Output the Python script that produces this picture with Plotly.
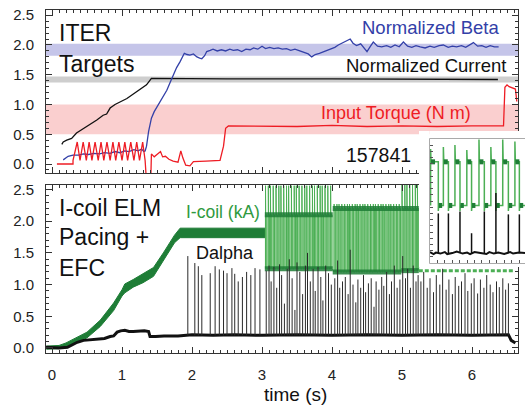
import plotly.graph_objects as go

# ---------------- top panel: ITER target quantities ----------------
CURRENT_T = [0.14, 0.16, 0.21, 0.28, 0.35, 0.50, 0.64, 0.73, 0.78, 0.83, 0.90, 1.07, 1.21, 1.35, 1.42, 2.50, 4.00, 5.50, 6.37]
CURRENT_V = [0.33, 0.37, 0.40, 0.43, 0.52, 0.63, 0.74, 0.82, 0.84, 0.94, 1.00, 1.10, 1.22, 1.33, 1.44, 1.43, 1.43, 1.42, 1.42]

BETA_T = [0.16, 0.20, 0.23, 0.30, 0.38, 0.45, 0.52, 0.60, 0.68, 0.75, 0.83, 0.90, 0.97, 1.04, 1.10, 1.17,
          1.23, 1.28, 1.31, 1.33, 1.35, 1.38, 1.42, 1.46, 1.50, 1.55, 1.60, 1.64, 1.69, 1.73, 1.78, 1.83,
          1.86, 1.89, 1.93, 1.97, 2.02, 2.07, 2.11, 2.14, 2.18, 2.21, 2.26, 2.30, 2.36, 2.42, 2.48, 2.54,
          2.59, 2.65, 2.71, 2.77, 2.83, 2.88, 2.94, 3.00, 3.05, 3.11, 3.17, 3.23, 3.29, 3.35, 3.41, 3.47,
          3.54, 3.60, 3.66, 3.71, 3.76, 3.82, 3.88, 3.92, 3.98, 4.04, 4.09, 4.14, 4.20, 4.26, 4.30, 4.35,
          4.41, 4.46, 4.50, 4.55, 4.59, 4.65, 4.71, 4.78, 4.84, 4.90, 4.96, 5.02, 5.08, 5.14, 5.20, 5.26,
          5.33, 5.40, 5.46, 5.53, 5.59, 5.66, 5.72, 5.78, 5.85, 5.91, 5.97, 6.02, 6.08, 6.14, 6.20, 6.26,
          6.32, 6.38]
BETA_V = [0.07, 0.10, 0.13, 0.15, 0.15, 0.17, 0.16, 0.18, 0.17, 0.19, 0.18, 0.21, 0.19, 0.22, 0.21, 0.24,
          0.22, 0.25, 0.21, 0.22, 0.30, 0.55, 0.77, 0.88, 0.96, 1.05, 1.15, 1.24, 1.38, 1.50, 1.62, 1.72,
          1.80, 1.86, 1.84, 1.83, 1.85, 1.80, 1.78, 1.77, 1.82, 1.89, 1.91, 1.93, 1.90, 1.92, 1.90, 1.93,
          1.91, 1.92, 1.89, 1.93, 1.92, 1.95, 1.93, 1.98, 1.94, 1.96, 1.94, 1.95, 1.93, 1.94, 1.91, 1.93,
          1.90, 1.88, 1.85, 1.80, 1.84, 1.86, 1.89, 1.90, 1.94, 1.96, 2.00, 2.03, 2.06, 2.10, 2.03, 1.99,
          2.02, 1.94, 1.89, 1.98, 2.05, 1.98, 1.97, 1.99, 1.96, 2.00, 1.97, 2.05, 1.98, 1.96, 1.99, 1.97,
          1.95, 1.98, 1.96, 1.99, 2.00, 1.96, 1.98, 1.97, 1.99, 1.96, 2.01, 2.04, 1.98, 1.99, 1.96, 1.99,
          1.97, 1.97]

TORQUE_T = [0.07, 0.30, 0.30, 0.36, 0.40, 0.445, 0.49, 0.53, 0.57, 0.615, 0.66, 0.70, 0.74, 0.785, 0.83,
            0.87, 0.91, 0.955, 1.00, 1.04, 1.08, 1.125, 1.17, 1.21, 1.25, 1.295, 1.33, 1.35, 1.41, 1.42,
            1.46, 1.50, 1.55, 1.58, 1.62, 1.67, 1.73, 1.80, 1.84, 1.87, 1.91, 1.97, 2.02, 2.20, 2.40, 2.45,
            2.48, 2.52, 3.00, 3.50, 4.00, 4.50, 5.00, 5.50, 6.00, 6.45, 6.47, 6.50, 6.53, 6.58, 6.62, 6.64]
TORQUE_V = [0.00, 0.00, 0.06, 0.37, 0.06, 0.37, 0.06, 0.37, 0.06, 0.37, 0.06, 0.37, 0.06, 0.37, 0.06,
            0.37, 0.06, 0.37, 0.06, 0.37, 0.06, 0.37, 0.06, 0.37, 0.06, 0.37, 0.06, -0.30, -0.30, 0.17,
            0.12, 0.16, 0.21, 0.12, 0.13, 0.08, 0.05, 0.03, 0.22, 0.10, -0.02, -0.03, 0.04, 0.05, 0.06, 0.30,
            0.60, 0.64, 0.64, 0.63, 0.65, 0.63, 0.64, 0.63, 0.64, 0.64, 1.29, 1.33, 1.30, 1.27, 1.26, 1.05]

# target windows (low, high)
BETA_TARGET = (1.82, 2.02)
CURRENT_TARGET = (1.37, 1.47)
TORQUE_TARGET = (0.50, 1.00)

# ---------------- bottom panel: I-coil current and Dalpha ----------------
ICOIL_T = [-0.08, 0.10, 0.20, 0.35, 0.50, 0.69, 0.88, 1.00, 1.04, 1.16, 1.30, 1.45, 1.59, 1.75, 1.83, 3.05]
ICOIL_HI = [0.03, 0.04, 0.08, 0.17, 0.25, 0.44, 0.71, 0.92, 1.01, 1.08, 1.17, 1.27, 1.50, 1.78, 1.89, 1.89]
ICOIL_LO = [-0.02, -0.01, 0.02, 0.09, 0.16, 0.34, 0.59, 0.82, 0.87, 0.96, 1.03, 1.13, 1.38, 1.66, 1.74, 1.74]

# pacing windows: start, end, high plateau, overshoot, low plateau (kA)
PACE_START = [3.04, 4.01, 4.99]
PACE_END = [4.01, 4.99, 5.24]
PACE_HIGH = [2.10, 2.20, 2.20]
PACE_PEAK = [2.56, 2.27, 2.58]
PACE_LOW = [1.25, 1.20, 1.22]
PACE_T = [3.05, 3.09, 3.12, 3.16, 3.20, 3.24, 3.27, 3.31, 3.35, 3.38, 3.42, 3.46, 3.49, 3.53, 3.57, 3.61,
          3.64, 3.68, 3.72, 3.75, 3.79, 3.83, 3.86, 3.90, 3.94, 3.98,
          4.03, 4.07, 4.10, 4.14, 4.18, 4.22, 4.25, 4.29, 4.33, 4.36, 4.40, 4.44, 4.47, 4.51, 4.55, 4.59,
          4.62, 4.66, 4.70, 4.73, 4.77, 4.81, 4.84, 4.88, 4.92, 4.96,
          5.00, 5.04, 5.07, 5.11, 5.15, 5.19, 5.22]
ICOIL_TAIL_T = [5.24, 6.60]
ICOIL_TAIL_V = [1.22, 1.22]

DALPHA_T = [-0.09, 0.10, 0.22, 0.30, 0.36, 0.45, 0.55, 0.65, 0.75, 0.83, 0.88, 0.93, 0.98, 1.04, 1.10, 1.16,
            1.24, 1.32, 1.38, 1.40, 1.48, 1.60, 1.80, 2.00, 2.30, 2.60, 3.00, 3.50, 4.00, 4.50, 5.00, 5.50,
            6.00, 6.40, 6.52, 6.56, 6.62]
DALPHA_V = [0.01, 0.00, 0.01, 0.06, 0.09, 0.12, 0.13, 0.14, 0.15, 0.18, 0.19, 0.25, 0.27, 0.28, 0.26, 0.26,
            0.27, 0.27, 0.26, 0.18, 0.18, 0.19, 0.19, 0.21, 0.20, 0.21, 0.20, 0.21, 0.20, 0.21, 0.20, 0.21,
            0.20, 0.20, 0.21, 0.12, 0.08]

ELM_EARLY_T = [1.94, 2.04, 2.09, 2.14, 2.26, 2.33, 2.39, 2.45, 2.50, 2.57, 2.61, 2.66, 2.72, 2.78, 2.84, 2.90, 2.97]
ELM_EARLY_H = [1.45, 1.34, 1.29, 1.15, 1.18, 1.29, 1.24, 1.22, 1.18, 1.26, 1.17, 1.05, 1.12, 1.20, 1.15, 1.26, 1.24]
ELM_PACED_H = [1.22, 1.30, 1.05, 1.28, 0.95, 1.32, 1.15, 0.70, 1.25, 1.40, 1.10, 0.60, 1.35, 1.20, 0.85, 1.30,
               1.50, 1.05, 1.25, 0.90, 1.28, 1.12, 0.75, 1.30, 1.18, 1.00,
               1.10, 1.38, 0.95, 1.05, 1.12, 0.85, 1.55, 1.00, 0.72, 1.08, 0.95, 1.15, 0.88, 1.02, 1.10, 0.65,
               1.05, 0.92, 1.12, 0.98, 1.20, 0.85, 1.05, 1.30, 0.95, 1.08,
               1.45, 1.10, 1.25, 0.95, 1.30, 1.05, 1.15]
ELM_LATE_T = [5.27, 5.31, 5.36, 5.40, 5.45, 5.49, 5.54, 5.58, 5.63, 5.67, 5.72, 5.76, 5.81, 5.85, 5.90, 5.94,
              5.99, 6.03, 6.08, 6.12, 6.17, 6.21, 6.26, 6.30, 6.35, 6.39, 6.44, 6.48, 6.52]
ELM_LATE_H = [1.05, 1.20, 0.95, 1.10, 0.88, 1.15, 1.00, 1.25, 0.92, 1.08, 0.85, 1.12, 0.98, 1.05, 1.18, 0.90,
              1.02, 1.10, 0.86, 1.08, 0.95, 1.15, 1.00, 0.88, 1.05, 0.96, 1.10, 0.92, 1.02]

# ---------------- inset: a few pacing cycles (ms) ----------------
INSET_RISE = [2, 45, 84, 124, 165, 205, 245, 286]
INSET_FALL = [28, 62, 101, 140, 183, 222, 264, 301]
INSET_PEAK = [2.30, 2.34, 2.38, 2.28, 2.49, 2.34, 2.49, 2.45]
INSET_ELM = [1.00, 1.00, 1.04, 0.60, 1.04, 1.41, 0.98, 0.98]
INSET_HIGH, INSET_LOW, INSET_DIP = 2.04, 1.16, 1.05
INSET_BASE_T = [0, 12, 20, 35, 50, 58, 75, 90, 110, 125, 135, 150, 170, 190, 200, 215, 230, 250, 270, 280, 300, 320]
INSET_BASE_V = [0.22, 0.18, 0.21, 0.19, 0.22, 0.18, 0.20, 0.23, 0.19, 0.21, 0.18, 0.22, 0.20, 0.18, 0.22, 0.19,
                0.21, 0.18, 0.22, 0.19, 0.21, 0.20]

# ---------------- styling ----------------
FONT = "Liberation Sans, Arial, Helvetica, sans-serif"
BLUE, RED, BLACK = "#3340a8", "#ee1c24", "#111111"
GREEN_DARK, GREEN_MID, GREEN_LIGHT = "#1e7d36", "#4caf55", "rgba(110,195,110,0.45)"
W, H = 525, 408
ML, MR, MT, MB = 46, 0, 10, 55


def paper_x(px):
    return (px - ML) / (W - ML - MR)


def paper_y(py):
    return (H - MB - py) / (H - MT - MB)


def spikes(times, heights, base):
    xs, ys = [], []
    for t, h in zip(times, heights):
        xs += [t, t, None]
        ys += [base, h, None]
    return xs, ys


fig = go.Figure()

# top panel curves
fig.add_trace(go.Scatter(x=CURRENT_T, y=CURRENT_V, mode="lines", line=dict(color=BLACK, width=1.3), xaxis="x", yaxis="y"))
fig.add_trace(go.Scatter(x=BETA_T, y=BETA_V, mode="lines", line=dict(color=BLUE, width=1.3), xaxis="x", yaxis="y"))
fig.add_trace(go.Scatter(x=TORQUE_T, y=TORQUE_V, mode="lines", line=dict(color=RED, width=1.3), xaxis="x", yaxis="y"))

# bottom panel: I-coil ramp band
fig.add_trace(go.Scatter(x=ICOIL_T, y=ICOIL_LO, mode="lines", line=dict(color=GREEN_DARK, width=1), xaxis="x2", yaxis="y2"))
fig.add_trace(go.Scatter(x=ICOIL_T, y=ICOIL_HI, mode="lines", line=dict(color=GREEN_DARK, width=1), fill="tonexty",
                         fillcolor=GREEN_DARK, xaxis="x2", yaxis="y2"))

# pacing square wave
for s, e, hi, pk, lo in zip(PACE_START, PACE_END, PACE_HIGH, PACE_PEAK, PACE_LOW):
    fig.add_trace(go.Scatter(x=[s, e, e, s, s], y=[lo, lo, hi, hi, lo], fill="toself", fillcolor=GREEN_LIGHT,
                             mode="none", xaxis="x2", yaxis="y2"))
wx, wy = [], []
for t in PACE_T:
    k = max(i for i, s in enumerate(PACE_START) if t >= s)
    hi, pk, lo = PACE_HIGH[k], PACE_PEAK[k], PACE_LOW[k]
    wx += [t, t, t + 0.003, t + 0.018, t + 0.018]
    wy += [lo, pk, hi, hi, lo]
fig.add_trace(go.Scatter(x=wx, y=wy, mode="lines", line=dict(color=GREEN_MID, width=1), xaxis="x2", yaxis="y2"))
bx, by = [], []
for s, e, hi, lo in zip(PACE_START, PACE_END, PACE_HIGH, PACE_LOW):
    bx += [s, e, None, s, e, None]
    by += [hi, hi, None, lo, lo, None]
fig.add_trace(go.Scatter(x=bx, y=by, mode="lines", line=dict(color=GREEN_DARK, width=5), opacity=0.85,
                         xaxis="x2", yaxis="y2"))
fig.add_trace(go.Scatter(x=ICOIL_TAIL_T, y=ICOIL_TAIL_V, mode="lines",
                         line=dict(color=GREEN_MID, width=3, dash="4px,2px"), xaxis="x2", yaxis="y2"))

# Dalpha
fig.add_trace(go.Scatter(x=DALPHA_T, y=DALPHA_V, mode="lines", line=dict(color=BLACK, width=3), xaxis="x2", yaxis="y2"))
sx, sy = spikes(ELM_EARLY_T + [t + 0.01 for t in PACE_T] + ELM_LATE_T, ELM_EARLY_H + ELM_PACED_H + ELM_LATE_H, 0.2)
fig.add_trace(go.Scatter(x=sx, y=sy, mode="lines", line=dict(color="#2a2a2a", width=1), xaxis="x2", yaxis="y2"))

# inset: white cover then waveform
fig.add_trace(go.Scatter(x=[0, 320, 320, 0, 0], y=[0, 0, 2.5, 2.5, 0], fill="toself", fillcolor="white",
                         mode="none", xaxis="x3", yaxis="y3"))
gx, gy = [0], [INSET_HIGH]
dkx, dky = [], []
for r, f, pk in zip(INSET_RISE, INSET_FALL, INSET_PEAK):
    gx += [r, r, r + 1.5, f, f, f + 1.5]
    gy += [INSET_LOW, pk, INSET_HIGH, INSET_HIGH, INSET_DIP, INSET_LOW]
    dkx += [r + 1.5, r + 15, None, f + 1.5, f + 13, None]
    dky += [INSET_HIGH, INSET_HIGH, None, INSET_LOW, INSET_LOW, None]
gx += [320]
gy += [INSET_LOW]
fig.add_trace(go.Scatter(x=gx, y=gy, mode="lines", line=dict(color=GREEN_MID, width=1.5), xaxis="x3", yaxis="y3"))
fig.add_trace(go.Scatter(x=dkx, y=dky, mode="lines", line=dict(color=GREEN_DARK, width=5), xaxis="x3", yaxis="y3"))
fig.add_trace(go.Scatter(x=INSET_BASE_T, y=INSET_BASE_V, mode="lines", line=dict(color=BLACK, width=2),
                         xaxis="x3", yaxis="y3"))
ix, iy = spikes(INSET_FALL, INSET_ELM, 0.2)
fig.add_trace(go.Scatter(x=ix, y=iy, mode="lines", line=dict(color=BLACK, width=1.5), xaxis="x3", yaxis="y3"))

# axes
tickfont = dict(family=FONT, size=15, color="#222222")
common = dict(showline=True, linecolor="#333333", linewidth=1, mirror="ticks", ticks="inside", ticklen=6,
              tickcolor="#333333", showgrid=False, zeroline=False, tickfont=tickfont)
x_main = dict(common, domain=[0, paper_x(518)], range=[-0.086, 6.657], tick0=0, dtick=1,
              minor=dict(ticks="inside", ticklen=3, dtick=0.1, tickcolor="#333333"))
y_minor = dict(ticks="inside", ticklen=3, dtick=0.1, tickcolor="#333333")
fig.update_layout(
    xaxis=dict(x_main, anchor="y", showticklabels=False),
    yaxis=dict(common, anchor="x", domain=[paper_y(173), 1], range=[-0.151, 2.588], tick0=0, dtick=0.5,
               tickformat=".1f", minor=y_minor, ticklabelstandoff=8),
    xaxis2=dict(x_main, anchor="y2", ticklabelstandoff=8),
    yaxis2=dict(common, anchor="x2", domain=[0, paper_y(185)], range=[-0.079, 2.571], tick0=0, dtick=0.5,
                tickformat=".1f", minor=y_minor, ticklabelstandoff=8),
    xaxis3=dict(showline=True, linecolor="#555555", mirror=True, ticks="inside", ticklen=3, tickcolor="#555555",
                showticklabels=False, showgrid=False, zeroline=False, domain=[paper_x(430), 1],
                range=[0, 320], dtick=25, anchor="y3"),
    yaxis3=dict(showline=True, linecolor="#555555", mirror=True, ticks="inside", ticklen=3, tickcolor="#555555",
                showticklabels=False, showgrid=False, zeroline=False, domain=[paper_y(263), paper_y(139)],
                range=[0, 2.5], dtick=0.125, anchor="x3"),
)

# target bands
shapes = []
for (lo, hi), col in [(BETA_TARGET, "rgba(150,150,215,0.55)"), (CURRENT_TARGET, "rgba(190,190,190,0.75)"),
                      (TORQUE_TARGET, "rgba(245,160,160,0.5)")]:
    shapes.append(dict(type="rect", xref="x domain", yref="y", x0=0, x1=1, y0=lo, y1=hi, fillcolor=col,
                       line=dict(width=0), layer="below"))
# white frame around the inset
for x0, x1, y0, y1 in [(419, 429.5, 131, 267), (429.5, 526, 131, 138.5), (429.5, 526, 263.5, 267)]:
    shapes.append(dict(type="rect", xref="paper", yref="paper", x0=paper_x(x0), x1=paper_x(x1),
                       y0=paper_y(y1), y1=paper_y(y0), fillcolor="white", line=dict(width=0), layer="above"))

ann = []


def label(text, px, py, anchor, size, color=BLACK):
    ann.append(dict(text=text, x=paper_x(px), y=paper_y(py), xref="paper", yref="paper", xanchor=anchor,
                    yanchor="middle", showarrow=False, font=dict(family=FONT, size=size, color=color)))


label("ITER", 57, 33, "left", 23)
label("Targets", 57, 64, "left", 23)
label("Normalized Beta", 501, 27, "right", 18.5, BLUE)
label("Normalized Current", 508, 66, "right", 18.5)
label("Input Torque (N m)", 473, 113, "right", 18, RED)
label("157841", 413, 155, "right", 19.5)
label("I-coil ELM", 57, 208, "left", 23)
label("Pacing +", 57, 237, "left", 23)
label("EFC", 57, 268, "left", 23)
label("I-coil (kA)", 184, 212, "left", 17.5, "#2f9a40")
label("Dalpha", 194, 253, "left", 18)
label("time (s)", 295, 394, "center", 19)

fig.update_layout(width=W, height=H, margin=dict(l=ML, r=MR, t=MT, b=MB), showlegend=False,
                  paper_bgcolor="white", plot_bgcolor="white", shapes=shapes, annotations=ann)

fig.write_html("out.html")
